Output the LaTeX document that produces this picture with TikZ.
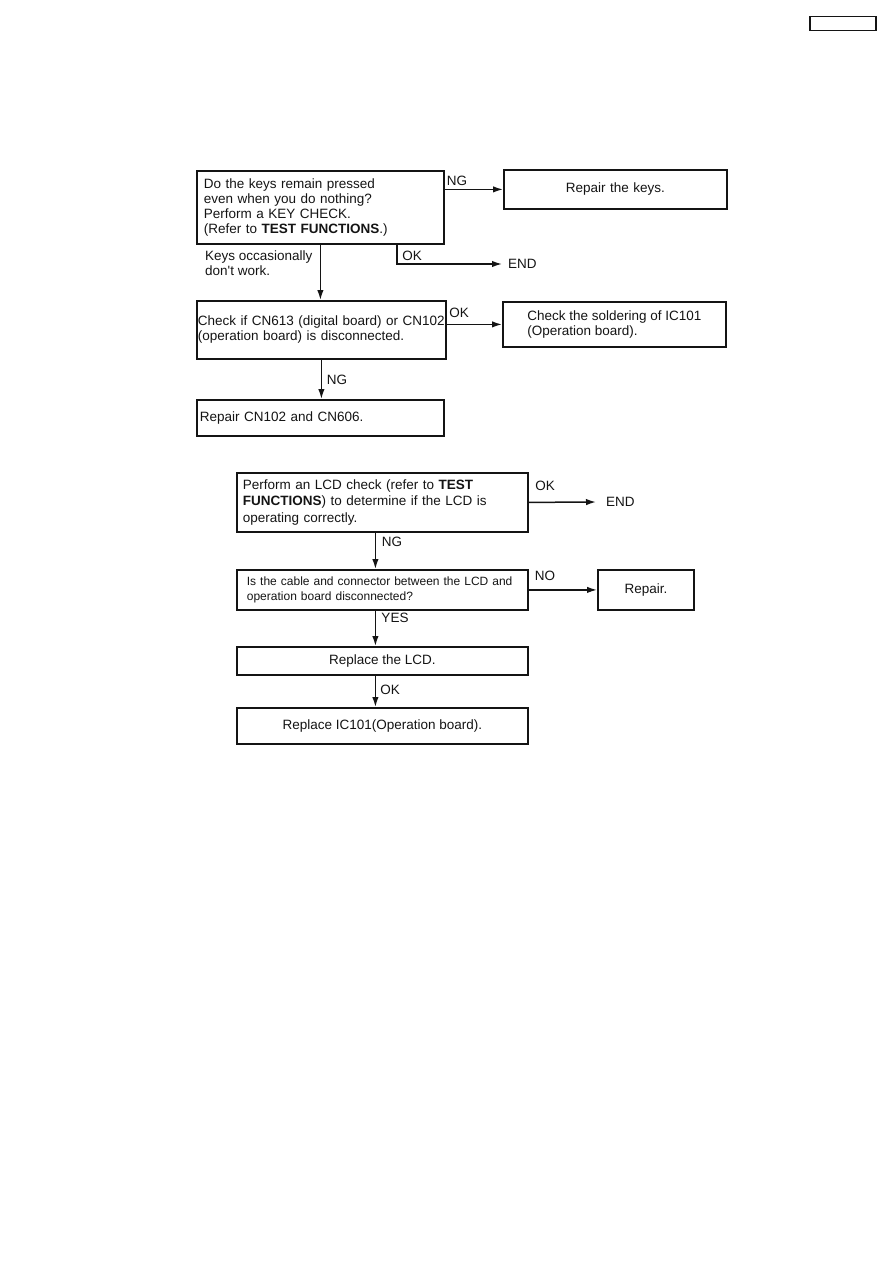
\documentclass[tikz,border=0pt]{standalone}
\usepackage{fontspec}
\setmainfont{Liberation Sans}[Ligatures=TeXOff]
\usepackage{xcolor}
\usetikzlibrary{arrows.meta}
\definecolor{flowInk}{RGB}{20,20,20}

\begin{document}
\begin{tikzpicture}[x=1pt,y=-1pt,
  font=\fontsize{13.5}{15}\selectfont, text=flowInk,
  box/.style={draw=flowInk, line width=1.8pt, anchor=north west, inner ysep=0pt, align=left},
  arr/.style={draw=flowInk, line width=1.5pt, -{Latex[length=10pt,width=6.5pt]}},
  lbl/.style={inner sep=0pt}]
\useasboundingbox (0,0) rectangle (893,1263);

\node[draw=flowInk, line width=1.5pt, anchor=north west, minimum width=66, minimum height=14, inner sep=0pt] (tab) at (809,16) {};

% key check
\node[box, text width=233, inner xsep=7, minimum height=73] (keys) at (196,170) {Do the keys remain pressed\\even when you do nothing?\\Perform a KEY CHECK.\\(Refer to \textbf{TEST FUNCTIONS}.)};
\node[box, text width=223, inner xsep=0, minimum height=39, align=center] (repkeys) at (503,169) {Repair the keys.};
\node[lbl, inner xsep=6pt, anchor=west] (endA) at (502,264) {END};
\draw[arr] (repkeys.west -| keys.east) -- (repkeys.west);
\draw[arr] ([xshift=76.5pt]keys.south) |- (endA.west);
\node[lbl] (ngA) at (457,181) {NG};
\node[lbl] (okA) at (412,256) {OK};
\node[lbl, anchor=base west, align=left] (occ) at (205,275) {Keys occasionally\\don't work.};

% connectors
\node[box, text width=247, inner xsep=1, minimum height=58] (cn) at (196,300) {Check if CN613 (digital board) or CN102\\(operation board) is disconnected.};
\node[box, minimum width=223, minimum height=45] (solder) at (502,301) {Check the soldering of IC101\\(Operation board).};
\node[box, text width=241, inner xsep=3, minimum height=36] (repcn) at (196,399) {Repair CN102 and CN606.};
\draw[arr] (keys.south) -- (keys.south |- cn.north);
\draw[arr] (solder.west -| cn.east) -- (solder.west);
\draw[arr] (cn.south) -- (cn.south |- repcn.north);
\node[lbl] (okB) at (459,313) {OK};
\node[lbl] (ngB) at (337,380) {NG};

% LCD check
\node[box, text width=279, inner xsep=6, minimum height=59, font=\fontsize{13.5}{16.5}\selectfont] (lcd) at (236,472) {Perform an LCD check (refer to \textbf{TEST}\\\textbf{FUNCTIONS}) to determine if the LCD is\\operating correctly.};
\node[lbl, inner xsep=10pt, anchor=west] (endB) at (596,502) {END};
\draw[arr] (lcd.east) -- (endB.west);
\node[lbl] (okC) at (545,486) {OK};

\node[box, text width=283, inner xsep=4, minimum height=40, font=\fontsize{12}{15}\selectfont] (cable) at (236,569) {\hspace*{6pt}Is the cable and connector between the LCD and\\\hspace*{6pt}operation board disconnected?};
\node[box, minimum width=96, minimum height=40, align=center] (repair) at (597,569) {Repair.};
\draw[arr] ([xshift=-7pt]lcd.south) -- ([xshift=-7pt]lcd.south |- cable.north);
\draw[arr] (cable.east) -- (repair.west);
\node[lbl] (ngC) at (392,542) {NG};
\node[lbl] (noC) at (545,576) {NO};

\node[box, minimum width=291, minimum height=28, align=center] (lcdrep) at (236,646) {Replace the LCD.};
\node[box, minimum width=291, minimum height=36, align=center] (ic) at (236,707) {Replace IC101(Operation board).};
\draw[arr] ([xshift=-7pt]cable.south) -- ([xshift=-7pt]cable.south |- lcdrep.north);
\draw[arr] ([xshift=-7pt]lcdrep.south) -- ([xshift=-7pt]lcdrep.south |- ic.north);
\node[lbl] (yesD) at (395,618) {YES};
\node[lbl] (okD) at (390,690) {OK};
\end{tikzpicture}
\end{document}
